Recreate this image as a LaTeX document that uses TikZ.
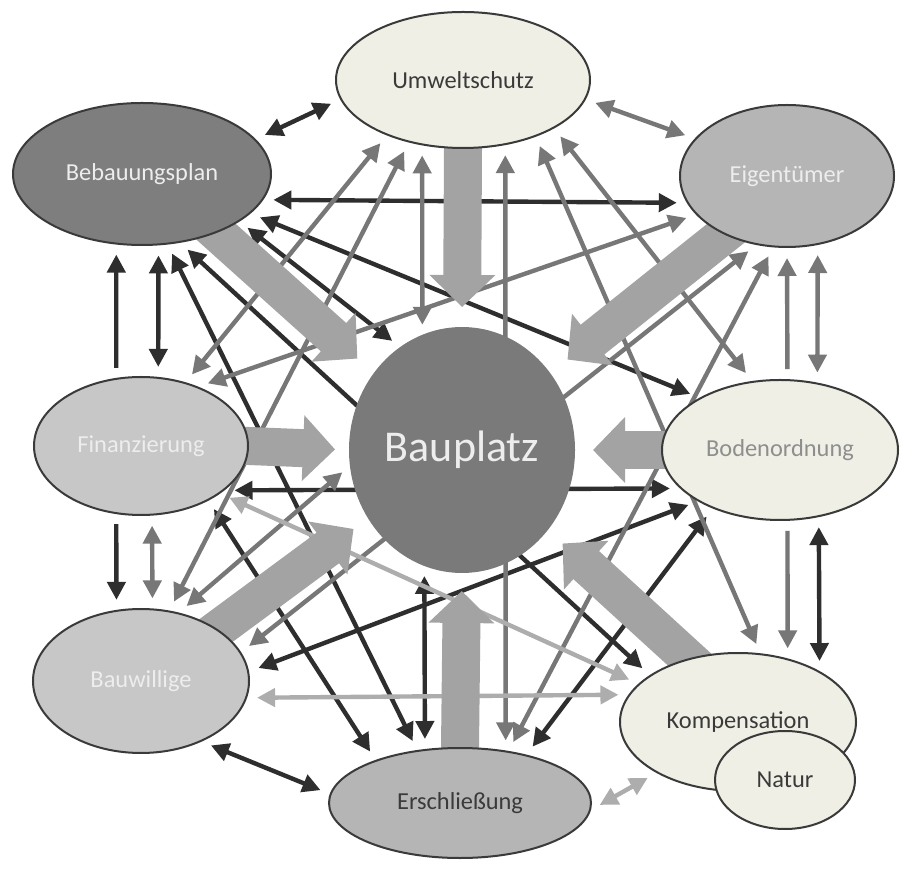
\documentclass[tikz,border=0pt]{standalone}
\usepackage{fontspec}
\setmainfont{Carlito}
\usetikzlibrary{arrows.meta,shapes.geometric}
\definecolor{Ink}{HTML}{3A3A3A}
\definecolor{DarkLine}{HTML}{2E2E2E}
\definecolor{MidLine}{HTML}{777777}
\definecolor{PaleLine}{HTML}{ADADAD}
\definecolor{Flow}{HTML}{A3A3A3}
\definecolor{Cream}{HTML}{EFEFE5}
\definecolor{Slate}{HTML}{7E7E7E}
\definecolor{Stone}{HTML}{B5B5B5}
\definecolor{Silver}{HTML}{C7C7C7}
\definecolor{Plot}{HTML}{7A7A7A}
\definecolor{Snow}{HTML}{EDEDED}
\definecolor{Fog}{HTML}{8E8E8E}
\pgfdeclarelayer{canvas}\pgfdeclarelayer{links}\pgfdeclarelayer{flows}
\pgfsetlayers{canvas,links,flows,main}
\begin{document}
\begin{tikzpicture}[x=0.5pt,y=-0.5pt,>={Triangle[length=9pt,width=9pt]},
 every node/.style={ellipse,draw=Ink,line width=1pt,inner sep=0pt,font=\fontsize{12.2pt}{14pt}\selectfont},
 link/.style={line width=2.2pt,shorten <=5pt,shorten >=5pt},
 flow/.style={Flow,line width=19pt,shorten <=-8pt,-{Triangle[length=16pt,width=32pt]}}]
\begin{pgfonlayer}{canvas}\fill[white] (0,0) rectangle (904,886);\end{pgfonlayer}
\node[fill=Cream,text=Ink,minimum width=127pt,minimum height=68pt] (umw) at (463,80) {Umweltschutz};
\node[fill=Slate,text=Snow,minimum width=129pt,minimum height=71pt] (bebau) at (142,174) {Bebauungsplan};
\node[fill=Stone,text=Snow,minimum width=107pt,minimum height=71pt] (eigen) at (787,176) {Eigentümer};
\node[fill=Silver,text=Snow,minimum width=107pt,minimum height=69pt] (finanz) at (141,446) {Finanzierung};
\node[fill=Plot,draw=Plot,text=Snow,minimum width=112pt,minimum height=122pt,font=\fontsize{22pt}{26pt}\selectfont] (bauplatz) at (462,450) {Bauplatz};
\node[fill=Cream,text=Fog,minimum width=118pt,minimum height=70pt] (boden) at (780,450) {Bodenordnung};
\node[fill=Silver,text=Snow,minimum width=108pt,minimum height=72pt] (bauw) at (141,681) {Bauwillige};
\node[fill=Stone,text=Ink,minimum width=131pt,minimum height=55pt] (ersch) at (460,803) {Erschließung};
\node[fill=Cream,text=Ink,minimum width=118pt,minimum height=69pt] (komp) at (738,722) {Kompensation};
\node[fill=Cream,text=Ink,minimum width=70pt,minimum height=49pt] (natur) at (785,780) {Natur};
\begin{pgfonlayer}{links}
\foreach \a/\b in {bebau.17/umw.189,bebau.-12/eigen.195,bebau.-20/boden.147,bebau.-26/bauplatz.121,bebau.-61/komp.152,bebau.-70/ersch.129,bebau.-77/finanz.76,finanz.-28/boden.201,finanz.-39/ersch.153,bauw.5/boden.212,bauw.-45/ersch.176,bauplatz.252/ersch.123,ersch.36/boden.221,boden.-60/komp.32}
 \draw[link,DarkLine,<->] (\a) -- (\b);
\foreach \a/\b in {finanz.110/bebau.250,finanz.250/bauw.109}
 \draw[link,DarkLine,->] (\a) -- (\b);
\foreach \a/\b in {umw.-9/eigen.158,umw.216/finanz.55,umw.229/bauw.68,umw.238/bauplatz.109,umw.-57/ersch.49,umw.-28/boden.112,umw.-38/komp.72,finanz.46/eigen.203,bauw.16/eigen.246,bauw.61/bauplatz.188,eigen.259/ersch.47,eigen.-66/boden.61,finanz.-81/bauw.81}
 \draw[link,MidLine,<->] (\a) -- (\b);
\foreach \a/\b in {boden.84/eigen.270,boden.-84/komp.52}
 \draw[link,MidLine,->] (\a) -- (\b);
\foreach \a/\b in {finanz.-31/komp.159,bauw.-9/komp.166,ersch.-3/komp.212}
 \draw[link,PaleLine,<->] (\a) -- (\b);
\end{pgfonlayer}
\begin{pgfonlayer}{flows}
\draw[flow,shorten >=11pt] (bebau.-38) -- (bauplatz.139);
\draw[flow,shorten >=10pt] (umw.south) -- (bauplatz.north);
\draw[flow,shorten >=11pt] (eigen.223) -- (bauplatz.41);
\draw[flow,shorten >=9pt] (boden.west) -- (bauplatz.east);
\draw[flow,shorten >=7pt] (finanz.east) -- (bauplatz.west);
\draw[flow,shorten >=9pt] (bauw.34) -- (bauplatz.216);
\draw[flow,shorten >=9pt] (ersch.north) -- (bauplatz.south);
\draw[flow,shorten >=10pt] (komp.128) -- (bauplatz.-43);
\end{pgfonlayer}
\end{tikzpicture}
\end{document}
